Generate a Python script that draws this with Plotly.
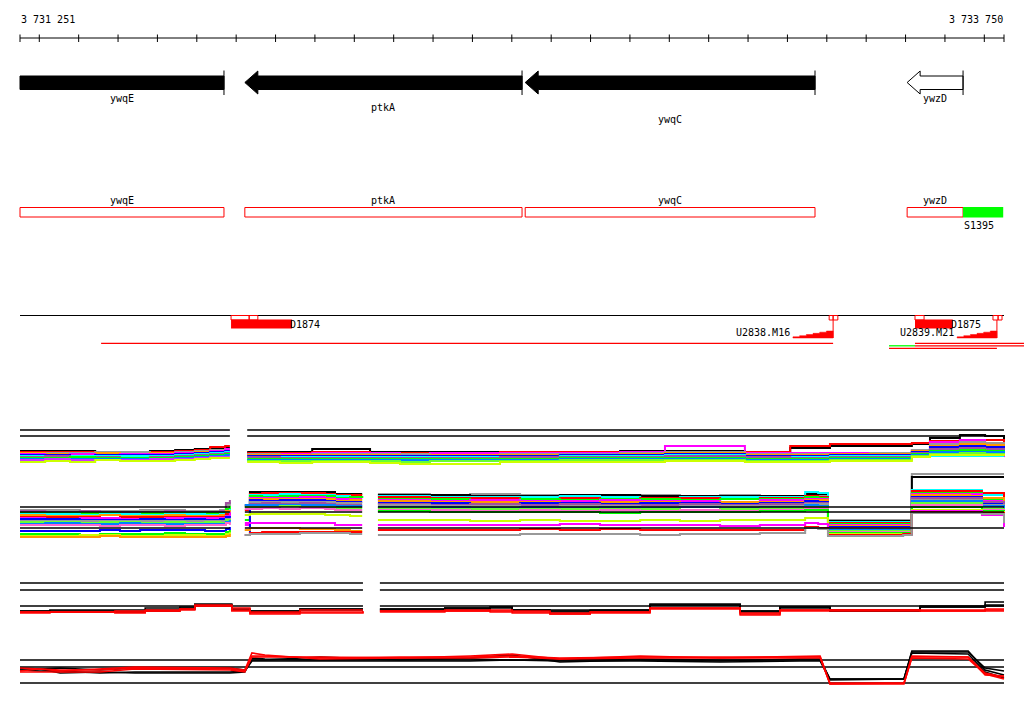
import plotly.graph_objects as go

# ---------------- data ----------------
VIEW_START, VIEW_END = 3731251, 3733750
RULER_LABELS = ["3 731 251", "3 733 750"]
RULER_TICKS = [3731251] + list(range(3731300, 3733701, 100)) + [3733750]

GENES = ["ywqE", "ptkA", "ywqC", "ywzD"]
GENE_START = [3731251, 3731822, 3732534, 3733504]
GENE_END = [3731769, 3732526, 3733270, 3733646]
GENE_HEAD = [False, True, True, True]          # ywqE's 5' end is left of the view
GENE_FILL = ["#000000", "#000000", "#000000", "#ffffff"]
GENE_LABEL_ROW = [98, 107, 119, 98]

SIGNAL_NAMES = ["S1395"]
SIGNAL_START = [3733646]
SIGNAL_END = [3733748]

SITE_BOX_START = [3731787, 3731833, 3733306, 3733316, 3733524, 3733722, 3733735]
SITE_BOX_END = [3731833, 3731855, 3733316, 3733328, 3733547, 3733735, 3733745]
DOWN_NAMES = ["D1874", "D1875"]
DOWN_START = [3731787, 3733524]
DOWN_END = [3731942, 3733620]
UP_NAMES = ["U2838.M16", "U2839.M21"]
UP_START = [3733214, 3733631]
UP_END = [3733316, 3733732]
SEG_START = [3731457, 3733458, 3733524, 3733524, 3733458]
SEG_END = [3733316, 3733524, 3733801, 3733801, 3733732]
SEG_COLOR = ["#ff0000", "#00ff00", "#ff0000", "#ff0000", "#ff0000"]
SEG_ROW = [0, 1, 0, 1, 2]

BLACK, RED, GREEN, BLUE = "#000000", "#ff0000", "#00ff00", "#0000ff"
MAGENTA, CYAN, ORANGE, GRAY = "#ff00ff", "#00ffff", "#ff9900", "#999999"
PURPLE, DODGER, VIOLET, YELLOW = "#a050a0", "#0080ff", "#cc33ff", "#ccff00"
LIME, PINK = "#66ff33", "#ff66cc"

# panel 1 (tiling arrays), upper track
P1U_SEGMENTS = [(3731251, 3731784), (3731828, 3733750)]
P1U_REFS = [4.0, 3.4]
A_X = [3731251, 3731315, 3731378, 3731442, 3731505, 3731581, 3731645, 3731695, 3731734, 3731772, 3731784]
A_COLORS = [BLACK, RED, GRAY, ORANGE, MAGENTA, BLUE, CYAN, PURPLE, GREEN, DODGER, VIOLET, YELLOW]
A_ROWS = [
    [1.9, 1.9, 1.9, 1.8, 1.8, 1.9, 2.0, 2.1, 2.2, 2.2, 2.2],
    [1.8, 1.8, 1.8, 1.8, 1.7, 1.8, 1.9, 2.0, 2.3, 2.4, 2.4],
    [1.7, 1.7, 1.7, 1.8, 1.8, 1.7, 1.8, 1.9, 2.0, 2.1, 2.1],
    [1.7, 1.6, 1.6, 1.7, 1.6, 1.7, 1.7, 1.8, 1.9, 2.0, 2.0],
    [1.6, 1.5, 1.6, 1.5, 1.6, 1.6, 1.7, 1.7, 1.9, 2.1, 2.1],
    [1.5, 1.5, 1.4, 1.5, 1.5, 1.5, 1.6, 1.7, 1.8, 1.9, 1.9],
    [1.4, 1.4, 1.4, 1.4, 1.4, 1.4, 1.5, 1.6, 1.7, 1.8, 1.8],
    [1.3, 1.4, 1.3, 1.3, 1.2, 1.3, 1.4, 1.5, 1.6, 1.7, 1.7],
    [1.2, 1.2, 1.3, 1.2, 1.2, 1.2, 1.3, 1.4, 1.5, 1.6, 1.6],
    [1.1, 1.1, 1.1, 1.1, 1.1, 1.1, 1.2, 1.3, 1.4, 1.5, 1.5],
    [1.0, 1.1, 1.0, 1.0, 1.0, 1.1, 1.1, 1.2, 1.3, 1.3, 1.3],
    [0.8, 0.9, 0.8, 1.0, 0.9, 0.9, 1.0, 1.1, 1.2, 1.2, 1.2],
]
B_X = [3731828, 3731911, 3731993, 3732140, 3732216, 3732292, 3732470, 3732622, 3732775, 3732889,
       3732978, 3733092, 3733207, 3733308, 3733410, 3733516, 3733562, 3733638, 3733702, 3733750]
B_COLORS = [BLACK, RED, MAGENTA, GRAY, ORANGE, BLUE, CYAN, PURPLE, GREEN, DODGER, LIME, YELLOW]
B_ROWS = [
    [1.8, 1.8, 2.1, 1.8, 1.8, 1.8, 1.8, 1.8, 1.9, 1.9, 1.9, 1.8, 2.2, 2.4, 2.4, 2.6, 3.2, 3.5, 3.4, 2.9],
    [1.7, 1.7, 1.8, 1.7, 1.7, 1.7, 1.8, 1.8, 1.8, 1.8, 1.8, 1.8, 2.4, 2.6, 2.6, 2.7, 2.9, 3.0, 3.0, 2.6],
    [1.6, 1.6, 1.7, 1.7, 1.6, 1.7, 1.7, 1.7, 1.8, 2.4, 2.4, 1.7, 1.7, 1.7, 1.7, 2.0, 2.8, 3.0, 2.3, 1.3],
    [1.6, 1.5, 1.6, 1.6, 1.6, 1.5, 1.6, 1.6, 1.7, 1.8, 1.8, 1.6, 1.6, 1.6, 1.7, 2.0, 2.6, 2.8, 2.7, 2.2],
    [1.5, 1.5, 1.5, 1.5, 1.4, 1.5, 1.5, 1.5, 1.6, 1.7, 1.7, 1.5, 1.5, 1.6, 1.6, 1.9, 2.4, 2.6, 2.5, 2.1],
    [1.4, 1.4, 1.4, 1.4, 1.4, 1.4, 1.4, 1.5, 1.5, 1.6, 1.6, 1.4, 1.4, 1.5, 1.5, 1.8, 2.3, 2.4, 2.3, 2.0],
    [1.3, 1.3, 1.3, 1.3, 1.3, 1.3, 1.3, 1.4, 1.4, 1.5, 1.5, 1.3, 1.3, 1.4, 1.4, 1.4, 1.4, 1.4, 1.4, 1.4],
    [1.3, 1.2, 1.2, 1.2, 1.2, 1.2, 1.3, 1.3, 1.3, 1.4, 1.4, 1.3, 1.2, 1.3, 1.3, 1.7, 2.1, 2.2, 2.1, 1.8],
    [1.1, 1.1, 1.1, 1.1, 1.1, 1.1, 1.1, 1.2, 1.2, 1.2, 1.2, 1.1, 1.1, 1.2, 1.2, 1.6, 1.9, 2.0, 1.9, 1.7],
    [1.0, 1.0, 1.0, 1.0, 1.0, 1.0, 1.0, 1.1, 1.1, 1.1, 1.1, 1.0, 1.0, 1.1, 1.1, 1.5, 1.8, 1.8, 1.8, 1.6],
    [0.9, 0.9, 0.9, 0.9, 0.8, 0.9, 0.9, 1.0, 1.0, 1.0, 1.0, 0.9, 0.9, 1.0, 1.0, 1.4, 1.6, 1.7, 1.6, 1.5],
    [0.8, 0.7, 0.8, 0.7, 0.6, 0.6, 0.8, 0.8, 0.8, 0.9, 0.9, 0.8, 0.8, 0.9, 0.9, 1.3, 1.5, 1.5, 1.5, 1.4],
]

# panel 1, lower track
P1L_SEGMENTS = [(3731251, 3731784), (3731822, 3732120), (3732160, 3733750)]
P1L_REFS = [3.8, 3.3, 1.7]
C_X = [3731251, 3731315, 3731403, 3731454, 3731505, 3731556, 3731619, 3731670, 3731721, 3731759, 3731774, 3731784]
C_COLORS = [GRAY, PURPLE, GREEN, CYAN, ORANGE, RED, MAGENTA, BLUE, GRAY, LIME, DODGER, PINK,
            BLUE, GREEN, YELLOW, ORANGE]
C_ROWS = [
    [3.5, 3.5, 3.4, 3.4, 3.4, 3.5, 3.5, 3.4, 3.4, 3.5, 4.0, 4.3],
    [3.4, 3.3, 3.4, 3.3, 3.3, 3.3, 3.4, 3.3, 3.3, 3.4, 4.2, 4.5],
    [3.2, 3.2, 3.2, 3.2, 3.1, 3.2, 3.2, 3.2, 3.2, 3.2, 3.6, 3.9],
    [3.1, 3.1, 3.0, 3.1, 3.1, 3.0, 3.1, 3.1, 3.0, 3.1, 3.3, 3.6],
    [3.0, 2.9, 2.9, 3.0, 2.9, 2.9, 3.0, 2.9, 2.9, 3.0, 3.4, 3.2],
    [2.8, 2.8, 2.8, 2.7, 2.8, 2.8, 2.8, 2.8, 2.8, 2.8, 3.1, 3.0],
    [2.7, 2.6, 2.7, 2.7, 2.6, 2.6, 2.7, 2.7, 2.7, 2.7, 2.9, 3.3],
    [2.6, 2.6, 2.5, 2.5, 2.5, 2.6, 2.5, 2.6, 2.5, 2.6, 2.8, 2.9],
    [2.4, 2.4, 2.4, 2.4, 2.4, 2.4, 2.4, 2.4, 2.4, 2.4, 2.6, 2.7],
    [2.3, 2.3, 2.2, 2.3, 2.3, 2.2, 2.3, 2.2, 2.3, 2.2, 2.5, 2.4],
    [2.1, 2.2, 2.1, 2.1, 2.2, 2.1, 2.1, 2.1, 2.1, 2.1, 2.3, 2.5],
    [2.0, 2.0, 2.0, 1.9, 2.0, 2.0, 1.9, 2.0, 2.0, 2.0, 2.2, 2.0],
    [1.4, 1.4, 1.4, 1.5, 1.4, 1.5, 1.5, 1.5, 1.4, 1.4, 1.6, 1.8],
    [1.1, 1.1, 1.0, 1.1, 1.1, 1.1, 1.2, 1.1, 1.1, 1.1, 1.3, 1.5],
    [0.9, 0.9, 1.0, 1.0, 0.9, 0.9, 1.0, 1.0, 0.9, 0.9, 1.1, 1.3],
    [0.8, 0.8, 0.8, 0.9, 0.8, 0.8, 0.8, 0.8, 0.8, 0.8, 0.9, 1.1],
]
D_X = [3731822, 3731835, 3731866, 3731911, 3731962, 3732026, 3732051, 3732089, 3732120]
D_COLORS = [BLACK, RED, CYAN, GREEN, MAGENTA, ORANGE, BLUE, GRAY, PURPLE, DODGER, LIME, PINK,
            YELLOW, MAGENTA, ORANGE, RED, GRAY]
D_ROWS = [
    [4.0, 5.3, 5.3, 5.3, 5.3, 5.3, 5.1, 5.1, 5.1],
    [3.5, 5.1, 5.2, 5.2, 5.2, 5.1, 5.0, 5.0, 5.0],
    [3.0, 5.0, 5.0, 5.1, 5.0, 5.0, 4.9, 4.8, 4.9],
    [2.5, 4.9, 4.8, 4.9, 4.9, 4.9, 4.7, 4.8, 4.7],
    [2.0, 4.7, 4.7, 4.7, 4.8, 4.7, 4.6, 4.6, 4.6],
    [1.5, 4.6, 4.6, 4.6, 4.6, 4.6, 4.4, 4.5, 4.5],
    [1.0, 4.5, 4.4, 4.5, 4.5, 4.4, 4.3, 4.3, 4.3],
    [3.8, 4.3, 4.3, 4.3, 4.3, 4.3, 4.2, 4.2, 4.2],
    [3.9, 4.1, 4.2, 4.1, 4.2, 4.1, 4.0, 4.0, 4.0],
    [4.0, 4.0, 4.0, 4.0, 4.0, 4.0, 3.9, 3.9, 3.9],
    [3.8, 3.8, 3.8, 3.9, 3.8, 3.8, 3.7, 3.7, 3.7],
    [3.6, 3.6, 3.7, 3.6, 3.7, 3.6, 3.5, 3.5, 3.5],
    [3.0, 3.1, 3.1, 3.1, 3.1, 3.0, 3.0, 2.9, 2.9],
    [2.2, 2.2, 2.2, 2.2, 2.2, 2.2, 2.0, 2.0, 2.0],
    [1.5, 1.7, 1.7, 1.7, 1.6, 1.6, 1.5, 1.4, 1.4],
    [1.0, 1.2, 1.3, 1.3, 1.3, 1.3, 1.3, 1.3, 1.3],
    [1.0, 1.1, 1.1, 1.1, 1.2, 1.2, 1.2, 1.1, 1.1],
]
E_X = [3732160, 3732292, 3732394, 3732521, 3732622, 3732724, 3732826, 3732927, 3733029, 3733130,
       3733245, 3733278, 3733303, 3733494, 3733516, 3733664, 3733694, 3733750]
E_COLORS = [GRAY, BLACK, CYAN, RED, GREEN, MAGENTA, ORANGE, BLUE, PURPLE, GRAY, DODGER, LIME,
            PINK, GREEN, YELLOW, MAGENTA, RED, GRAY]
E_ROWS = [
    [5.1, 5.0, 5.1, 5.0, 4.9, 5.0, 5.0, 4.9, 5.0, 4.9, 5.0, 5.0, 2.5, 2.5, 7.1, 7.1, 7.1, 7.1],
    [5.0, 5.0, 4.9, 4.9, 5.0, 5.0, 4.9, 4.9, 4.9, 4.9, 5.1, 5.1, 2.4, 2.4, 6.8, 6.8, 6.8, 6.8],
    [4.9, 4.8, 4.8, 4.8, 4.9, 4.8, 4.7, 4.8, 4.8, 4.8, 5.3, 5.2, 2.3, 2.3, 5.5, 5.5, 5.0, 4.0],
    [4.8, 4.7, 4.7, 4.6, 4.7, 4.6, 4.7, 4.7, 4.6, 4.7, 4.9, 4.8, 2.2, 2.2, 5.4, 5.4, 5.2, 4.3],
    [4.6, 4.6, 4.5, 4.6, 4.5, 4.6, 4.6, 4.5, 4.6, 4.6, 4.8, 4.7, 2.1, 2.1, 5.2, 5.2, 4.6, 3.6],
    [4.5, 4.4, 4.5, 4.4, 4.4, 4.5, 4.4, 4.4, 4.3, 4.5, 4.6, 4.6, 2.0, 2.0, 5.1, 5.1, 4.4, 3.2],
    [4.4, 4.3, 4.3, 4.3, 4.2, 4.3, 4.3, 4.2, 4.3, 4.3, 4.5, 4.5, 1.9, 1.9, 5.0, 4.9, 4.7, 3.8],
    [4.2, 4.2, 4.1, 4.2, 4.2, 4.1, 4.2, 4.2, 4.1, 4.2, 4.4, 4.3, 1.8, 1.8, 4.8, 4.8, 4.2, 3.0],
    [4.1, 4.0, 4.1, 4.0, 4.1, 4.0, 4.0, 4.1, 4.0, 4.1, 4.2, 4.2, 1.7, 1.7, 4.7, 4.7, 4.3, 2.6],
    [4.0, 3.9, 3.9, 3.8, 3.9, 3.9, 3.8, 3.9, 3.9, 3.9, 4.1, 4.1, 1.6, 1.6, 4.5, 4.5, 4.0, 2.8],
    [3.8, 3.8, 3.7, 3.8, 3.7, 3.8, 3.7, 3.8, 3.7, 3.8, 4.0, 3.9, 1.5, 1.5, 4.4, 4.4, 3.9, 2.4],
    [3.7, 3.6, 3.6, 3.6, 3.6, 3.6, 3.6, 3.5, 3.6, 3.7, 3.8, 3.8, 1.4, 1.4, 4.2, 4.2, 3.6, 2.2],
    [3.5, 3.5, 3.4, 3.5, 3.4, 3.5, 3.4, 3.5, 3.4, 3.5, 3.7, 3.6, 1.3, 1.3, 4.0, 4.0, 3.5, 2.0],
    [3.4, 3.3, 3.3, 3.3, 3.3, 3.2, 3.3, 3.3, 3.3, 3.4, 3.5, 3.5, 1.2, 1.2, 3.8, 3.8, 3.4, 1.9],
    [2.5, 2.5, 2.4, 2.5, 2.4, 2.4, 2.5, 2.4, 2.5, 2.5, 2.7, 2.7, 1.1, 1.1, 3.5, 3.5, 3.3, 2.5],
    [2.0, 2.0, 2.0, 2.0, 2.1, 2.0, 2.0, 2.0, 1.9, 2.0, 2.2, 2.1, 1.0, 1.0, 3.4, 3.4, 3.0, 1.8],
    [1.5, 1.5, 1.5, 1.6, 1.5, 1.6, 1.5, 1.5, 1.5, 1.5, 1.8, 1.7, 1.0, 1.1, 3.3, 3.3, 3.2, 2.9],
    [1.0, 1.0, 1.0, 1.1, 1.1, 1.1, 1.0, 1.1, 1.1, 1.2, 1.7, 1.6, 0.9, 1.0, 3.2, 3.2, 3.1, 2.2],
]

# panel 2 (two red / black experiments)
P2U_SEGMENTS = [(3731251, 3732122), (3732165, 3733750)]
P2U_REFS = [3.7, 3.0, 1.4]
F_X = [3731251, 3731327, 3731492, 3731569, 3731657, 3731695, 3731789, 3731835, 3731962, 3732122,
       3732142, 3732165, 3732330, 3732445, 3732501, 3732597, 3732699, 3732851, 3733080, 3733181,
       3733308, 3733537, 3733702, 3733750]
F_COLORS = [BLACK, BLACK, BLACK, RED, RED, RED]
F_ROWS = [
    [0.9, 1.0, 1.0, 1.2, 1.3, 1.5, 1.1, 0.9, 1.1, 1.1, None, 1.1, 1.2, 1.3, 1.0, 0.9, 1.0, 1.6, 0.9, 1.3, 0.9, 1.4, 1.8, 1.8],
    [0.9, 0.9, 0.8, 1.0, 1.2, 1.6, 1.0, 0.9, 1.0, 1.0, None, 1.0, 1.1, 1.2, 1.0, 1.0, 1.0, 1.5, 0.9, 1.2, 1.0, 1.3, 1.5, 1.5],
    [0.8, 0.8, 0.8, 0.9, 1.1, 1.4, 1.0, 0.8, 1.1, 1.1, None, 1.1, 1.2, 1.3, 1.0, 0.8, 0.9, 1.5, 0.8, 1.3, 0.9, 1.3, 1.4, 1.4],
    [0.8, 0.8, 0.9, 1.0, 1.1, 1.5, 1.2, 0.6, 1.0, 1.0, None, 0.9, 0.9, 1.0, 0.9, 0.6, 0.8, 1.2, 0.6, 1.0, 1.0, 1.0, 1.1, 1.1],
    [0.8, 0.8, 0.8, 0.9, 1.0, 1.4, 1.0, 0.8, 0.8, 0.9, None, 0.9, 1.0, 0.9, 0.7, 0.7, 0.8, 1.1, 0.7, 1.0, 1.0, 0.9, 1.0, 1.0],
    [0.7, 0.8, 0.7, 0.9, 1.1, 1.4, 0.9, 0.7, 0.7, 0.8, None, 0.8, 0.9, 0.8, 0.8, 0.6, 0.7, 1.2, 0.5, 0.9, 0.9, 0.9, 0.9, 0.9],
]
P2L_SEGMENTS = [(3731251, 3733750)]
P2L_REFS = [3.0, 2.3, 0.7]
G_X = [3731251, 3731302, 3731353, 3731454, 3731543, 3731784, 3731822, 3731840, 3731873, 3732013,
       3732216, 3732394, 3732501, 3732622, 3732826, 3733029, 3733232, 3733283, 3733308, 3733496,
       3733516, 3733659, 3733702, 3733750]
G_COLORS = [BLACK, BLACK, BLACK, RED, RED, RED]
G_ROWS = [
    [2.2, 2.1, 2.2, 2.0, 2.2, 2.2, 2.0, 3.0, 3.0, 3.3, 3.0, 3.2, 3.5, 2.8, 3.0, 2.9, 3.1, 3.1, 1.1, 1.1, 3.9, 3.9, 2.0, 1.5],
    [2.1, 2.1, 1.7, 1.8, 1.7, 1.7, 1.8, 3.2, 3.1, 3.0, 3.1, 3.1, 3.0, 3.0, 3.1, 3.0, 3.0, 3.0, 1.1, 1.1, 3.8, 3.8, 2.2, 1.9],
    [2.0, 1.9, 1.9, 1.7, 1.8, 1.8, 1.9, 2.9, 2.9, 2.9, 2.9, 2.9, 3.0, 2.9, 2.9, 2.8, 2.9, 2.9, 1.0, 1.1, 3.7, 3.6, 1.8, 1.2],
    [2.2, 2.1, 1.9, 2.1, 2.3, 2.2, 2.0, 3.7, 3.5, 3.1, 3.2, 3.4, 3.6, 3.1, 3.4, 3.2, 3.4, 3.4, 0.6, 0.6, 3.3, 3.3, 1.7, 1.3],
    [1.9, 2.1, 2.0, 2.0, 2.2, 2.1, 1.9, 3.4, 3.4, 3.2, 3.3, 3.3, 3.4, 3.2, 3.3, 3.3, 3.3, 3.3, 0.6, 0.7, 3.4, 3.3, 1.5, 1.4],
    [1.8, 1.8, 1.8, 1.8, 2.1, 2.0, 1.8, 3.3, 3.3, 3.3, 3.2, 3.2, 3.3, 3.1, 3.2, 3.2, 3.2, 3.2, 0.7, 0.7, 3.2, 3.1, 1.6, 1.1],
]

# ---------------- layout constants (pixels) ----------------
W, H = 1024, 714
PX_LEFT, PX_RIGHT = 20, 1004
BP_PER_PX = (VIEW_END - VIEW_START) / (PX_RIGHT - PX_LEFT)
X_RANGE = [VIEW_START - PX_LEFT * BP_PER_PX, VIEW_START + (W - PX_LEFT) * BP_PER_PX]
FONT = dict(family="DejaVu Sans Mono", size=10, color="black")


def yfrac(px):
    return 1 - px / H


fig = go.Figure()


def poly(xs, ys, fill, line_color, width=1):
    fig.add_trace(go.Scatter(x=xs, y=ys, mode="lines", fill="toself", fillcolor=fill,
                             line=dict(color=line_color, width=width), hoverinfo="skip",
                             showlegend=False, xaxis="x", yaxis="y"))


def segs(xs, ys, color, width=1):
    fig.add_trace(go.Scatter(x=xs, y=ys, mode="lines", line=dict(color=color, width=width),
                             hoverinfo="skip", showlegend=False, xaxis="x", yaxis="y",
                             connectgaps=False))


def text(x, y, s, anchor="center", xshift=0):
    fig.add_annotation(x=x, y=y, xref="x", yref="y", text=s, showarrow=False, xanchor=anchor,
                       yanchor="middle", xshift=xshift, font=FONT, borderpad=0)


# ruler
segs([VIEW_START, VIEW_END], [38, 38], BLACK)
tx, ty = [], []
for t in RULER_TICKS:
    tx += [t, t, None]
    ty += [34.5, 42, None]
segs(tx, ty, BLACK)
text(VIEW_START, 19, RULER_LABELS[0], "left")
text(VIEW_END, 19, RULER_LABELS[1], "right")

# gene arrows (track 1)
HEAD = 13 * BP_PER_PX
for name, s, e, head, fill, ly in zip(GENES, GENE_START, GENE_END, GENE_HEAD, GENE_FILL, GENE_LABEL_ROW):
    if head:
        xs = [s, s + HEAD, s + HEAD, e, e, s + HEAD, s + HEAD, s]
        ys = [82.5, 71, 76, 76, 89.5, 89.5, 94, 82.5]
    else:
        xs = [s, e, e, s, s]
        ys = [76, 76, 89.5, 89.5, 76]
    poly(xs, ys, fill, BLACK, 1)
    segs([e, e], [70.5, 95], BLACK)
    text((s + e) / 2, ly, name)

# gene boxes (track 2)
for name, s, e in zip(GENES, GENE_START, GENE_END):
    fig.add_shape(type="rect", xref="x", yref="y", x0=s, x1=e, y0=207.5, y1=217,
                  line=dict(color=RED, width=1), fillcolor="white")
    text((s + e) / 2, 200, name)
for name, s, e in zip(SIGNAL_NAMES, SIGNAL_START, SIGNAL_END):
    fig.add_shape(type="rect", xref="x", yref="y", x0=s, x1=e, y0=207, y1=217.5,
                  line=dict(width=0), fillcolor=GREEN)
    text(s, 225, name, "left")

# track 3
segs([VIEW_START, VIEW_END], [315.5, 315.5], BLACK)
for s, e in zip(DOWN_START, DOWN_END):
    fig.add_shape(type="rect", xref="x", yref="y", x0=s, x1=e, y0=319.5, y1=328.5,
                  line=dict(width=0), fillcolor=RED)
for name, e in zip(DOWN_NAMES, DOWN_END):
    text(e, 324, name, "left", xshift=-3)
for s, e in zip(SITE_BOX_START, SITE_BOX_END):
    fig.add_shape(type="rect", xref="x", yref="y", x0=s, x1=e, y0=315.5, y1=320,
                  line=dict(color=RED, width=1), fillcolor="rgba(0,0,0,0)")
for name, s, e in zip(UP_NAMES, UP_START, UP_END):
    n = 6
    xs, ys = [s], [338]
    for k in range(n):
        x0 = s + k * (e - s) / n
        x1 = s + (k + 1) * (e - s) / n
        top = 338 - 7 * (k + 1) / n
        xs += [x0, x1]
        ys += [top, top]
    xs += [e, s]
    ys += [338, 338]
    poly(xs, ys, RED, RED, 0.5)
    segs([e, e], [320, 338], RED)
    text(s, 332, name, "right", xshift=-2)
for s, e, c, r in zip(SEG_START, SEG_END, SEG_COLOR, SEG_ROW):
    segs([s, e], [343.3 + 2.5 * r, 343.3 + 2.5 * r], c, 1.3)


# expression tracks
def band(xs, rows, colors, yaxis, shape="hv", width=2):
    for vals, col in zip(rows, colors):
        fig.add_trace(go.Scatter(x=xs, y=vals, mode="lines", line=dict(color=col, width=width, shape=shape),
                                 hoverinfo="skip", showlegend=False, xaxis="x", yaxis=yaxis,
                                 connectgaps=False))


def refs(segments, levels, yaxis):
    for lv in levels:
        xs, ys = [], []
        for s, e in segments:
            xs += [s, e, None]
            ys += [lv, lv, None]
        fig.add_trace(go.Scatter(x=xs, y=ys, mode="lines", line=dict(color=BLACK, width=1.4),
                                 hoverinfo="skip", showlegend=False, xaxis="x", yaxis=yaxis))


band(A_X, A_ROWS, A_COLORS, "y2")
band(B_X, B_ROWS, B_COLORS, "y2")
refs(P1U_SEGMENTS, P1U_REFS, "y2")
band(C_X, C_ROWS, C_COLORS, "y3")
band(D_X, D_ROWS, D_COLORS, "y3")
band(E_X, E_ROWS, E_COLORS, "y3")
refs(P1L_SEGMENTS, P1L_REFS, "y3")
refs(P2U_SEGMENTS, P2U_REFS, "y4")
band(F_X, F_ROWS, F_COLORS, "y4", width=1.6)
refs(P2L_SEGMENTS, P2L_REFS, "y5")
band(G_X, G_ROWS, G_COLORS, "y5", shape="linear", width=1.6)

hidden = dict(visible=False, fixedrange=True)
fig.update_layout(
    width=W, height=H, margin=dict(l=0, r=0, t=0, b=0),
    paper_bgcolor="white", plot_bgcolor="rgba(0,0,0,0)", showlegend=False,
    xaxis=dict(range=X_RANGE, domain=[0, 1], **hidden),
    yaxis=dict(range=[H, 0], domain=[0, 1], **hidden),
    yaxis2=dict(range=[0, 5.0], domain=[yfrac(470), yfrac(420)], anchor="x", **hidden),
    yaxis3=dict(range=[0, 8.5], domain=[yfrac(545), yfrac(460)], anchor="x", **hidden),
    yaxis4=dict(range=[0, 4.5], domain=[yfrac(620), yfrac(575)], anchor="x", **hidden),
    yaxis5=dict(range=[0, 5.0], domain=[yfrac(690), yfrac(640)], anchor="x", **hidden),
)

fig.write_html("out.html", config={"displayModeBar": False},
               post_script="document.body.style.margin='0';document.body.style.overflow='hidden';")
